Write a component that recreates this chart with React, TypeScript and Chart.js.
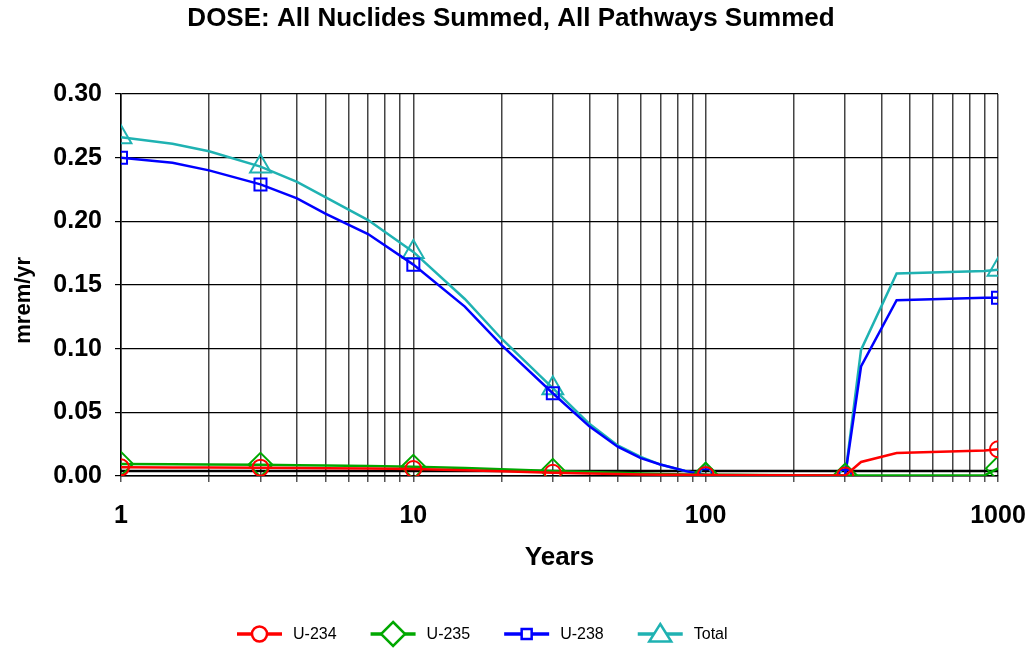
import React, { useEffect, useRef } from 'react';
import { Chart, registerables } from 'chart.js';

Chart.register(...registerables);

// Time points (years) at which the curves are read
const years = [1, 1.5, 2, 3, 4, 5, 7, 10, 15, 20, 30, 40, 50, 60, 70, 85, 100, 300, 340, 450, 900, 1000];

// Dose values (mrem/yr)
const u234 = [0.0068, 0.0067, 0.0066, 0.0065, 0.0063, 0.0061, 0.0058, 0.0055, 0.0045, 0.0037, 0.0025, 0.0019, 0.0015, 0.0012, 0.0010, 0.0009, 0.0008, 0.0003, 0.011, 0.018, 0.020, 0.021];
const u235 = [0.0095, 0.0093, 0.0091, 0.0088, 0.0085, 0.0082, 0.0078, 0.0072, 0.0062, 0.0053, 0.0040, 0.0032, 0.0025, 0.0020, 0.0016, 0.0012, 0.0010, 0.0003, 0.0003, 0.0003, 0.0005, 0.0060];
const u238 = [0.250, 0.246, 0.240, 0.229, 0.218, 0.206, 0.190, 0.166, 0.133, 0.103, 0.065, 0.039, 0.023, 0.014, 0.009, 0.004, 0.0005, 0.0, 0.086, 0.138, 0.140, 0.140];
const total = [0.266, 0.261, 0.255, 0.243, 0.231, 0.219, 0.201, 0.176, 0.139, 0.108, 0.069, 0.041, 0.024, 0.015, 0.009, 0.004, 0.001, 0.0, 0.099, 0.159, 0.161, 0.162];
const referenceLine = [0.004, 0.004];
const referenceYears = [1, 1000];

const markerYears = [1, 3, 10, 30, 100, 300, 1000];
const xTickLabels = [1, 10, 100, 1000];
const seriesLabels = ['U-234', 'U-235', 'U-238', 'Total'];
const seriesColors = ['#ff0000', '#00a800', '#0000ff', '#1fb2b2'];
const seriesMarkers = ['circle', 'rectRot', 'rect', 'triangle'];
const markerRadius = [8, 12, 8.5, 12];
const chartTitle = 'DOSE: All Nuclides Summed, All Pathways Summed';

const FONT = '"Liberation Sans", Arial, Helvetica, sans-serif';

function drawMarker(ctx: CanvasRenderingContext2D, style: string, x: number, y: number, r: number) {
  ctx.beginPath();
  if (style === 'circle') {
    ctx.arc(x, y, r, 0, Math.PI * 2);
  } else if (style === 'rect') {
    ctx.rect(x - r, y - r, 2 * r, 2 * r);
  } else if (style === 'rectRot') {
    ctx.moveTo(x, y - r);
    ctx.lineTo(x + r, y);
    ctx.lineTo(x, y + r);
    ctx.lineTo(x - r, y);
    ctx.closePath();
  } else if (style === 'triangle') {
    ctx.moveTo(x, y - r);
    ctx.lineTo(x + r * 1.1, y + r * 0.75);
    ctx.lineTo(x - r * 1.1, y + r * 0.75);
    ctx.closePath();
  }
  ctx.fillStyle = '#ffffff';
  ctx.fill();
  ctx.stroke();
}

const titleAndLegendPlugin = {
  id: 'titleAndLegend',
  afterDraw(chart: any) {
    const ctx: CanvasRenderingContext2D = chart.ctx;
    ctx.save();
    // title
    ctx.font = `bold 26px ${FONT}`;
    ctx.fillStyle = '#000000';
    ctx.textAlign = 'center';
    ctx.textBaseline = 'middle';
    ctx.fillText(chartTitle, 511, 19);
    // legend
    ctx.font = `16px ${FONT}`;
    ctx.textBaseline = 'middle';
    ctx.textAlign = 'left';
    let x = 237;
    const y = 634;
    const legendR = [7.5, 12, 5, 10];
    seriesLabels.forEach((label, i) => {
      ctx.strokeStyle = seriesColors[i];
      ctx.lineWidth = 3.5;
      ctx.beginPath();
      ctx.moveTo(x, y);
      ctx.lineTo(x + 45, y);
      ctx.stroke();
      ctx.lineWidth = 2.5;
      drawMarker(ctx, seriesMarkers[i], x + 22.5, y, legendR[i]);
      ctx.fillStyle = '#000000';
      ctx.fillText(label, x + 56, y + 1);
      x += 56 + ctx.measureText(label).width + 34;
    });
    ctx.restore();
  },
};

export default function App() {
  const canvasRef = useRef<HTMLCanvasElement | null>(null);

  useEffect(() => {
    if (!canvasRef.current) return;
    const seriesValues = [u234, u235, u238, total];
    const datasets: any[] = seriesValues.map((vals, i) => ({
      label: seriesLabels[i],
      data: years.map((t, j) => ({ x: t, y: vals[j] })),
      borderColor: seriesColors[i],
      backgroundColor: 'rgba(0,0,0,0)',
      borderWidth: 2.5,
      tension: 0,
      pointStyle: seriesMarkers[i],
      pointRadius: (c: any) => (c.raw && markerYears.includes(c.raw.x) ? markerRadius[i] : 0),
      pointHoverRadius: 0,
      pointBorderWidth: 2,
      pointBorderColor: seriesColors[i],
      pointBackgroundColor: 'rgba(0,0,0,0)',
    }));
    datasets.push({
      label: 'reference',
      data: referenceYears.map((t, j) => ({ x: t, y: referenceLine[j] })),
      borderColor: '#000000',
      borderWidth: 2.5,
      pointRadius: 0,
      tension: 0,
      order: 10,
    });

    const chart = new Chart(canvasRef.current, {
      type: 'line',
      data: { datasets },
      options: {
        animation: false,
        responsive: false,
        layout: { padding: { left: 0, right: 36, top: 94, bottom: 62 } },
        plugins: {
          legend: { display: false },
          tooltip: { enabled: false },
          title: { display: false },
        },
        scales: {
          x: {
            type: 'logarithmic',
            min: 1,
            max: 1000,
            afterBuildTicks: (scale: any) => {
              const ticks: any[] = [];
              for (let d = 1; d < 1000; d *= 10) {
                for (let k = 1; k < 10; k++) ticks.push({ value: k * d });
              }
              ticks.push({ value: 1000 });
              scale.ticks = ticks;
            },
            afterFit: (scale: any) => {
              scale.height = 110;
              scale.paddingLeft = 0;
              scale.paddingRight = 0;
            },
            ticks: {
              autoSkip: false,
              maxRotation: 0,
              minRotation: 0,
              padding: 19,
              color: '#000000',
              font: { family: FONT, size: 25, weight: 'bold' },
              callback: (v: any) => (xTickLabels.includes(Number(v)) ? String(v) : ''),
            },
            grid: {
              color: '#444444',
              lineWidth: 1.5,
              tickLength: 6,
              tickColor: '#555555',
            },
            border: { color: '#000000', width: 1.5 },
            title: {
              display: true,
              text: 'Years',
              color: '#000000',
              font: { family: FONT, size: 26, weight: 'bold' },
              padding: { top: 0, bottom: 13 },
            },
          },
          y: {
            min: 0,
            max: 0.3,
            afterFit: (scale: any) => {
              scale.width = 121;
              scale.paddingTop = 0;
              scale.paddingBottom = 0;
            },
            ticks: {
              stepSize: 0.05,
              padding: 13,
              color: '#000000',
              font: { family: FONT, size: 25, weight: 'bold' },
              callback: (v: any) => Number(v).toFixed(2),
            },
            grid: {
              color: '#000000',
              lineWidth: 1.2,
              tickLength: 6,
            },
            border: { color: '#000000', width: 1.5 },
            title: {
              display: true,
              text: 'mrem/yr     ',
              color: '#000000',
              font: { family: FONT, size: 22, weight: 'bold' },
              padding: { top: 11, bottom: 0 },
            },
          },
        },
      },
      plugins: [titleAndLegendPlugin],
    });
    return () => chart.destroy();
  }, []);

  return (
    <div style={{ position: 'absolute', left: 0, top: 0, width: 1034, height: 648, background: '#ffffff' }}>
      <canvas ref={canvasRef} width={1034} height={648} />
    </div>
  );
}
